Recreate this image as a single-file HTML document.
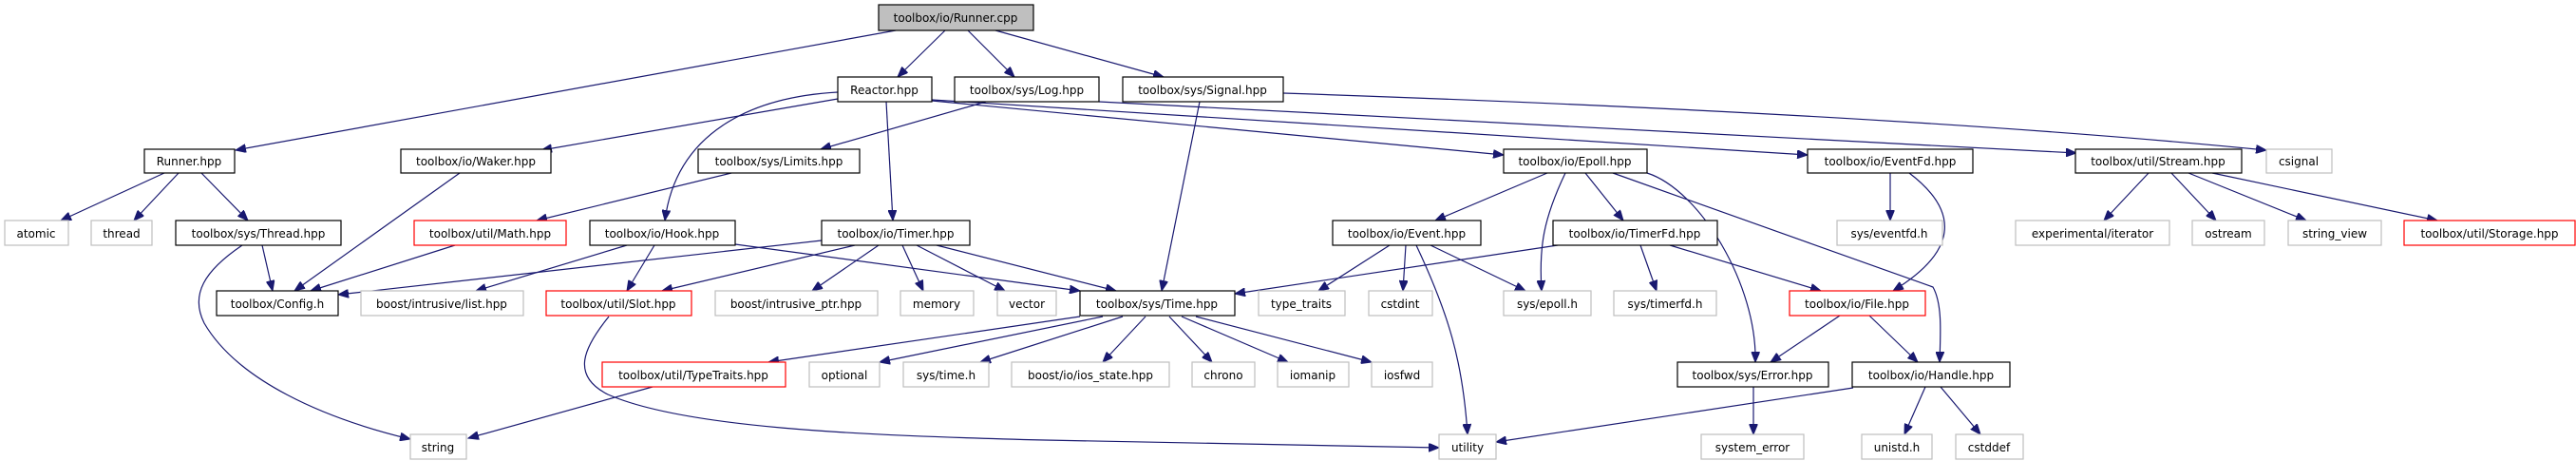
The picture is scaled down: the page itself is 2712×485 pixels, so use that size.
<!DOCTYPE html>
<html><head><meta charset="utf-8"><style>
html,body{margin:0;padding:0;background:#fff}
svg{display:block}
text{font-family:"DejaVu Sans","Liberation Sans",sans-serif;font-size:12px;fill:#000}
.b{fill:#fff;stroke:#000;stroke-width:1.2}
.g{fill:#fff;stroke:#bfbfbf;stroke-width:1.2}
.r{fill:#fff;stroke:#ff0000;stroke-width:1.2}
.t{fill:#bfbfbf;stroke:#000;stroke-width:1.2}
.e{fill:none;stroke:#191970;stroke-width:1.2}
</style></head><body>
<svg width="2712" height="485" viewBox="0 0 2712 485" xmlns="http://www.w3.org/2000/svg">
<defs><marker id="a" markerWidth="12" markerHeight="9" refX="11" refY="4.5" orient="auto" markerUnits="userSpaceOnUse"><path d="M0,0 L11,4.5 L0,9 z" fill="#191970" stroke="#191970"/></marker></defs>
<g marker-end="url(#a)" class="e">
<path d="M943,32 L248,158"/>
<path d="M995,32 L945,81"/>
<path d="M1019,32 L1068,81"/>
<path d="M1048,32 L1225,81"/>
<path d="M882,104 L570,158"/>
<path d="M882,97 C790,102 712,140 700,232"/>
<path d="M933,107 L940,232"/>
<path d="M981,106 L1583,163"/>
<path d="M981,105 L1903,163"/>
<path d="M1038,107 L864,157"/>
<path d="M1157,107 L2186,161"/>
<path d="M1263,107 L1223,306"/>
<path d="M1351,98 Q2000,120 2386,158"/>
<path d="M173,182 L64,232"/>
<path d="M188,182 L141,232"/>
<path d="M212,182 L261,232"/>
<path d="M484,182 L310,306"/>
<path d="M770,182 L565,232"/>
<path d="M276,258 L287,306"/>
<path d="M255,258 C215,285 200,310 215,340 C250,400 340,440 432,462"/>
<path d="M479,258 L327,306"/>
<path d="M660,258 L501,306"/>
<path d="M689,258 L660,306"/>
<path d="M774,257 L1137,306"/>
<path d="M865,253 L356,310"/>
<path d="M900,258 L697,306"/>
<path d="M925,258 L855,306"/>
<path d="M950,258 L972,306"/>
<path d="M965,258 L1058,306"/>
<path d="M986,258 L1175,306"/>
<path d="M1463,258 L1388,306"/>
<path d="M1480,258 L1477,306"/>
<path d="M1491,258 C1525,330 1540,380 1545,457"/>
<path d="M1506,258 L1606,306"/>
<path d="M1629,182 L1511,232"/>
<path d="M1648,182 C1625,230 1620,260 1623,306"/>
<path d="M1669,182 L1709,232"/>
<path d="M1698,182 L2035,302 C2045,320 2043,350 2042,381"/>
<path d="M1734,182 C1790,200 1850,300 1848,381"/>
<path d="M1640,258 L1300,309"/>
<path d="M1727,258 L1744,306"/>
<path d="M1758,258 L1917,306"/>
<path d="M1990,182 L1990,232"/>
<path d="M2010,182 C2060,220 2065,262 1993,306"/>
<path d="M2262,182 L2215,232"/>
<path d="M2286,182 L2333,232"/>
<path d="M2304,182 L2428,232"/>
<path d="M2329,182 L2566,232"/>
<path d="M1137,333 L809,381"/>
<path d="M1161,333 L926,381"/>
<path d="M1182,333 L1032,381"/>
<path d="M1206,333 L1161,381"/>
<path d="M1231,333 L1276,381"/>
<path d="M1244,333 L1356,381"/>
<path d="M1259,333 L1444,381"/>
<path d="M1937,332 L1864,381"/>
<path d="M1968,332 L2019,381"/>
<path d="M1846,407 L1846,457"/>
<path d="M1951,408 L1575,465"/>
<path d="M2027,407 L2005,457"/>
<path d="M2043,407 L2085,457"/>
<path d="M641,333 C615,365 600,395 640,415 C720,450 900,458 1100,463 L1515,471"/>
<path d="M687,407 L493,461"/>
</g>
<g text-anchor="middle">
<rect class="t" x="925" y="5" width="163" height="27"/><text x="1006" y="23">toolbox/io/Runner.cpp</text>
<rect class="b" x="882" y="81" width="99" height="26"/><text x="931" y="99">Reactor.hpp</text>
<rect class="b" x="1005" y="81" width="152" height="26"/><text x="1081" y="99">toolbox/sys/Log.hpp</text>
<rect class="b" x="1182" y="81" width="169" height="26"/><text x="1266" y="99">toolbox/sys/Signal.hpp</text>

<rect class="b" x="152" y="157" width="95" height="25"/><text x="199" y="174">Runner.hpp</text>
<rect class="b" x="422" y="157" width="158" height="25"/><text x="501" y="174">toolbox/io/Waker.hpp</text>
<rect class="b" x="735" y="157" width="170" height="25"/><text x="820" y="174">toolbox/sys/Limits.hpp</text>
<rect class="b" x="1583" y="157" width="151" height="25"/><text x="1658" y="174">toolbox/io/Epoll.hpp</text>
<rect class="b" x="1903" y="157" width="174" height="25"/><text x="1990" y="174">toolbox/io/EventFd.hpp</text>
<rect class="b" x="2185" y="157" width="175" height="25"/><text x="2272" y="174">toolbox/util/Stream.hpp</text>
<rect class="g" x="2386" y="157" width="69" height="25"/><text x="2420" y="174">csignal</text>

<rect class="g" x="5" y="232" width="67" height="26"/><text x="38" y="250">atomic</text>
<rect class="g" x="96" y="232" width="64" height="26"/><text x="128" y="250">thread</text>
<rect class="b" x="185" y="232" width="174" height="26"/><text x="272" y="250">toolbox/sys/Thread.hpp</text>
<rect class="r" x="436" y="232" width="160" height="26"/><text x="516" y="250">toolbox/util/Math.hpp</text>
<rect class="b" x="621" y="232" width="153" height="26"/><text x="697" y="250">toolbox/io/Hook.hpp</text>
<rect class="b" x="865" y="232" width="156" height="26"/><text x="943" y="250">toolbox/io/Timer.hpp</text>
<rect class="b" x="1403" y="232" width="156" height="26"/><text x="1481" y="250">toolbox/io/Event.hpp</text>
<rect class="b" x="1635" y="232" width="173" height="26"/><text x="1721" y="250">toolbox/io/TimerFd.hpp</text>
<rect class="g" x="1934" y="232" width="111" height="26"/><text x="1989" y="250">sys/eventfd.h</text>
<rect class="g" x="2122" y="232" width="162" height="26"/><text x="2203" y="250">experimental/iterator</text>
<rect class="g" x="2308" y="232" width="76" height="26"/><text x="2346" y="250">ostream</text>
<rect class="g" x="2409" y="232" width="98" height="26"/><text x="2458" y="250">string_view</text>
<rect class="r" x="2531" y="232" width="180" height="26"/><text x="2621" y="250">toolbox/util/Storage.hpp</text>

<rect class="b" x="228" y="306" width="128" height="26"/><text x="292" y="324">toolbox/Config.h</text>
<rect class="g" x="380" y="306" width="171" height="26"/><text x="465" y="324">boost/intrusive/list.hpp</text>
<rect class="r" x="575" y="306" width="153" height="26"/><text x="651" y="324">toolbox/util/Slot.hpp</text>
<rect class="g" x="753" y="306" width="171" height="26"/><text x="838" y="324">boost/intrusive_ptr.hpp</text>
<rect class="g" x="948" y="306" width="77" height="26"/><text x="986" y="324">memory</text>
<rect class="g" x="1050" y="306" width="62" height="26"/><text x="1081" y="324">vector</text>
<rect class="b" x="1137" y="306" width="163" height="26"/><text x="1218" y="324">toolbox/sys/Time.hpp</text>
<rect class="g" x="1325" y="306" width="91" height="26"/><text x="1370" y="324">type_traits</text>
<rect class="g" x="1441" y="306" width="67" height="26"/><text x="1474" y="324">cstdint</text>
<rect class="g" x="1583" y="306" width="92" height="26"/><text x="1629" y="324">sys/epoll.h</text>
<rect class="g" x="1699" y="306" width="108" height="26"/><text x="1753" y="324">sys/timerfd.h</text>
<rect class="r" x="1884" y="306" width="143" height="26"/><text x="1955" y="324">toolbox/io/File.hpp</text>

<rect class="r" x="634" y="381" width="193" height="26"/><text x="730" y="399">toolbox/util/TypeTraits.hpp</text>
<rect class="g" x="852" y="381" width="74" height="26"/><text x="889" y="399">optional</text>
<rect class="g" x="951" y="381" width="90" height="26"/><text x="996" y="399">sys/time.h</text>
<rect class="g" x="1065" y="381" width="166" height="26"/><text x="1148" y="399">boost/io/ios_state.hpp</text>
<rect class="g" x="1255" y="381" width="66" height="26"/><text x="1288" y="399">chrono</text>
<rect class="g" x="1345" y="381" width="75" height="26"/><text x="1382" y="399">iomanip</text>
<rect class="g" x="1444" y="381" width="64" height="26"/><text x="1476" y="399">iosfwd</text>
<rect class="b" x="1766" y="381" width="159" height="26"/><text x="1845" y="399">toolbox/sys/Error.hpp</text>
<rect class="b" x="1950" y="381" width="166" height="26"/><text x="2033" y="399">toolbox/io/Handle.hpp</text>

<rect class="g" x="432" y="457" width="59" height="26"/><text x="461" y="475">string</text>
<rect class="g" x="1515" y="457" width="60" height="26"/><text x="1545" y="475">utility</text>
<rect class="g" x="1791" y="457" width="108" height="26"/><text x="1845" y="475">system_error</text>
<rect class="g" x="1960" y="457" width="74" height="26"/><text x="1997" y="475">unistd.h</text>
<rect class="g" x="2059" y="457" width="71" height="26"/><text x="2094" y="475">cstddef</text>
</g>
</svg>
</body></html>
